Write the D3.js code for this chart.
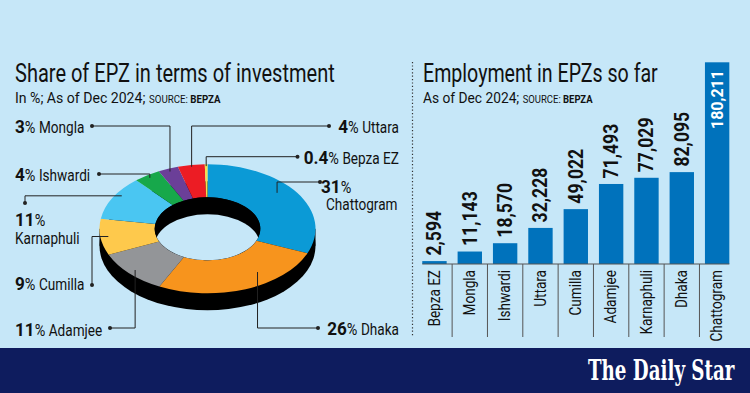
<!DOCTYPE html>
<html>
<head>
<meta charset="utf-8">
<script src="https://cdn.jsdelivr.net/npm/d3@7"></script>
<style>
  body { margin: 0; background: #c6e7f8; }
  svg { display: block; }
  text { font-family: Roboto, "Noto Sans", sans-serif; fill: #111; }
</style>
</head>
<body>
<script>

// Share of investment (%), clockwise from 12 o'clock
const pieNames  = ["Chattogram", "Dhaka", "Adamjee", "Cumilla", "Karnaphuli", "Ishwardi", "Mongla", "Uttara", "Bepza EZ"];
const pieShares = [31, 26, 11, 9, 11, 4, 3, 4, 0.4];
const pieColors = ["#0b9ad6", "#f7941d", "#939598", "#fec94c", "#4ac6f2", "#17a84b", "#6b3f98", "#ec1c24", "#f4e04d"];

// Employment in EPZs
const barNames  = ["Bepza EZ", "Mongla", "Ishwardi", "Uttara", "Cumilla", "Adamjee", "Karnaphuli", "Dhaka", "Chattogram"];
const barValues = [2594, 11143, 18570, 32228, 49022, 71493, 77029, 82095, 180211];

const width = 750, height = 393;
const bg = "#c6e7f8";
const condense = 0.8;

const svg = d3.select("body").append("svg")
  .attr("width", width)
  .attr("height", height);

svg.append("rect").attr("width", width).attr("height", height).attr("fill", bg);

// squeeze a text to a given width (no condensed font installed)
function fit(sel, x, y, w){
  const bw = sel.node().getBBox().width;
  sel.attr("transform", `translate(${x},${y}) scale(${w / bw},1)`);
}

// label made of pieces, each with its own size / weight / squeeze
function richLabel(parent, x, y, anchor, parts){
  const g = parent.append("g");
  let cur = 0;
  parts.forEach(p => {
    if (p.gap){ cur += p.gap; return; }
    const t = g.append("text")
      .style("font-size", p.size + "px")
      .style("font-weight", p.weight || 400)
      .text(p.text);
    const w = t.node().getComputedTextLength() * p.sx;
    t.attr("transform", `translate(${cur},0) scale(${p.sx},1)`);
    cur += w;
  });
  g.attr("transform", `translate(${anchor === "end" ? x - cur : x},${y})`);
  return g;
}

//Titles
let t = svg.append("text").style("font-size", "26px").text("Share of EPZ in terms of investment");
fit(t, 15, 82, 320);
t = svg.append("text").style("font-size", "14.5px");
t.append("tspan").text("In %; As of Dec 2024; ");
t.append("tspan").style("font-size", "10px").text("SOURCE: ");
t.append("tspan").style("font-size", "10px").style("font-weight", 700).text("BEPZA");
fit(t, 15, 103, 206);

t = svg.append("text").style("font-size", "26px").text("Employment in EPZs so far");
fit(t, 423, 82, 235);
t = svg.append("text").style("font-size", "14.5px");
t.append("tspan").text("As of Dec 2024; ");
t.append("tspan").style("font-size", "10px").text("SOURCE: ");
t.append("tspan").style("font-size", "10px").style("font-weight", 700).text("BEPZA");
fit(t, 423, 103, 170);

//Divider
svg.append("line")
  .attr("x1", 412.5).attr("x2", 412.5)
  .attr("y1", 62).attr("y2", 337)
  .attr("stroke", "#333").attr("stroke-width", 1.2)
  .attr("stroke-dasharray", "1.2,2.2");

// ---------- 3D donut ----------
const cx = 207.5, cy = 228.8, rOut = 108, rIn = 52.8, tilt = 0.597, depth = 17;
const dz = depth / tilt;

const pie = d3.pie().sort(null).value(d => d)(pieShares);
const arc = d3.arc().innerRadius(rIn).outerRadius(rOut);

const dg = svg.append("g").attr("transform", `translate(${cx},${cy}) scale(1,${tilt})`);

// extruded side
dg.append("circle").attr("cy", dz).attr("r", rOut).attr("fill", "#000");
dg.append("rect").attr("x", -rOut).attr("y", 0).attr("width", 2 * rOut).attr("height", dz).attr("fill", "#000");

dg.selectAll("path.slice")
  .data(pie)
  .join("path")
  .attr("class", "slice")
  .attr("d", arc)
  .attr("fill", (d, i) => pieColors[i]);

// hole: back inner wall + see-through part
dg.append("clipPath").attr("id", "hole").append("circle").attr("r", rIn);
dg.append("circle").attr("r", rIn).attr("fill", "#000");
dg.append("circle").attr("cy", dz).attr("r", rIn).attr("fill", bg).attr("clip-path", "url(#hole)");

function project(a, r){
  return [cx + r * Math.sin(a), cy - r * Math.cos(a) * tilt];
}

// label layout
const pieLabels = [
  {x: 321, y: 193, anchor: "start", dot: [320, 182], path: "hv", da: -7, r: 92, x2: 326, y2: 210},
  {x: 399, y: 335, anchor: "end", dot: [318, 328], path: "hv", da: -14, r: 88},
  {x: 15, y: 336, anchor: "start", dot: [110, 328], path: "hv", da: 0, r: 100},
  {x: 15, y: 290, anchor: "start", dot: [92, 285], path: "vh", da: 0, r: 100},
  {x: 15, y: 226, anchor: "start", dot: [25, 203], path: "vh", da: 4, r: 102, x2: 15, y2: 243.5},
  {x: 15, y: 181, anchor: "start", dot: [99, 174], path: "hv", da: 0, r: 103},
  {x: 15, y: 133, anchor: "start", dot: [92, 126], path: "hv", da: 0, r: 103},
  {x: 399, y: 133, anchor: "end", dot: [329, 126], path: "hv", da: 0, r: 105},
  {x: 399, y: 163.5, anchor: "end", dot: [297.5, 156.7], path: "hv", da: 0, r: 105}
];

pie.forEach((p, i) => {
  const L = pieLabels[i];
  const mid = (p.startAngle + p.endAngle) / 2 + L.da * Math.PI / 180;
  const end = project(mid, L.r);
  const [dx, dy] = L.dot;
  const pts = L.path === "hv"
    ? [[dx, dy], [end[0], dy], end]
    : [[dx, dy], [dx, end[1]], end];

  svg.append("path")
    .attr("d", d3.line()(pts))
    .attr("fill", "none")
    .attr("stroke", "#222")
    .attr("stroke-width", 1);
  svg.append("circle").attr("cx", dx).attr("cy", dy).attr("r", 2).attr("fill", "#222");

  const parts = [
    {text: String(pieShares[i]), size: 19, weight: 700, sx: 0.9},
    {text: "%", size: 17, sx: 0.85}
  ];
  const name = {text: pieNames[i], size: 17, sx: condense};
  if (L.x2 !== undefined){
    richLabel(svg, L.x, L.y, L.anchor, parts);
    richLabel(svg, L.x2, L.y2, L.anchor, [name]);
  } else {
    richLabel(svg, L.x, L.y, L.anchor, parts.concat([{gap: 3.5}, name]));
  }
});

// ---------- Bars ----------
const base = 264;
const x = d3.scaleBand()
  .domain(barNames)
  .range([416.8, 734.8])
  .paddingInner(0.31)
  .paddingOuter(0.155);

const y = d3.scaleLinear()
  .domain([0, d3.max(barValues)])
  .range([base, 62.3]);

const bw = x.bandwidth();
const step = x.step();

svg.append("g")
  .selectAll("rect")
  .data(barValues)
  .join("rect")
  .attr("x", (d, i) => x(barNames[i]))
  .attr("y", d => y(d))
  .attr("width", bw)
  .attr("height", d => base - y(d))
  .attr("fill", "#0072bc");

// separators between categories
svg.append("g")
  .selectAll("line")
  .data(barNames.slice(0, -1))
  .join("line")
  .attr("x1", d => x(d) + bw + (step - bw) / 2)
  .attr("x2", d => x(d) + bw + (step - bw) / 2)
  .attr("y1", base)
  .attr("y2", 337)
  .attr("stroke", "#555")
  .attr("stroke-width", 1);

const xAxis = svg.append("g")
  .attr("transform", `translate(0,${base})`)
  .call(d3.axisBottom(x).tickSize(0));
xAxis.select(".domain").remove();
xAxis.selectAll("text")
  .attr("transform", `rotate(-90) scale(${condense},1)`)
  .attr("x", -6 / condense)
  .attr("y", 0)
  .attr("dy", "0.3em")
  .style("text-anchor", "end")
  .style("font-size", "17px")
  .style("font-family", "Roboto, sans-serif")
  .attr("fill", "#111");

svg.append("line")
  .attr("x1", x(barNames[0]))
  .attr("x2", x(barNames[barNames.length - 1]) + bw)
  .attr("y1", base).attr("y2", base)
  .attr("stroke", "#555").attr("stroke-width", 1.2);

// value labels
const fmt = d3.format(",");
const maxV = d3.max(barValues);
barValues.forEach((v, i) => {
  const cxb = x(barNames[i]) + bw / 2;
  const inside = v === maxV;
  const ty = inside ? y(v) + 7.7 : y(v) - 5.5;
  svg.append("text")
    .attr("transform", `translate(${cxb},${ty}) rotate(-90) scale(${inside ? 0.97 : 0.88},1)`)
    .attr("dy", "0.35em")
    .attr("text-anchor", inside ? "end" : "start")
    .style("font-weight", 700)
    .style("font-size", inside ? "16.5px" : "20px")
    .style("fill", inside ? "#fff" : "#111")
    .text(fmt(v));
});

// ---------- Footer ----------
svg.append("rect").attr("x", 0).attr("y", 348).attr("width", width).attr("height", height - 348).attr("fill", "#0e1c5e");
t = svg.append("text")
  .style("font-family", "'DejaVu Serif', 'Liberation Serif', serif")
  .style("font-weight", 700)
  .style("font-size", "27px")
  .style("fill", "#fff")
  .text("The Daily Star");
fit(t, 588, 380, 147);

</script>
</body>
</html>
